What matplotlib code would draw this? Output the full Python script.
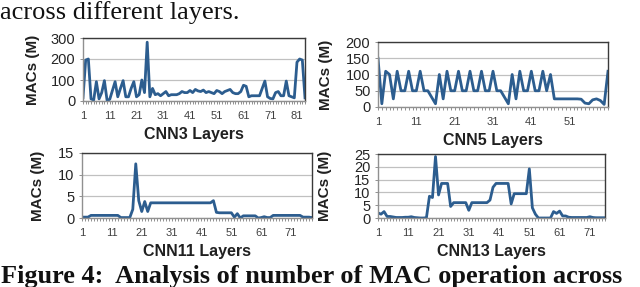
import matplotlib
matplotlib.use("Agg")
import matplotlib.pyplot as plt
from matplotlib.ticker import MultipleLocator, FixedLocator

# ---- data ----
cnn3 = [16, 195, 200, 10, 5, 92, 10, 40, 97, 3,
        8, 50, 92, 20, 60, 97, 20, 20, 60, 92,
        20, 30, 100, 40, 280, 20, 60, 30, 35, 25,
        35, 45, 25, 30, 30, 30, 35, 45, 40, 40,
        50, 40, 55, 48, 45, 52, 40, 45, 40, 35,
        50, 45, 35, 45, 50, 55, 40, 35, 35, 45,
        75, 70, 20, 25, 25, 25, 25, 60, 95, 20,
        12, 10, 40, 45, 25, 25, 95, 25, 20, 15,
        185, 200, 195, 15]

cnn5 = [150, 10, 110, 100, 25, 110, 50, 50, 110, 50,
        50, 110, 50, 50, 30, 10, 100, 25, 110, 50,
        50, 110, 50, 50, 110, 50, 50, 110, 50, 50,
        110, 50, 50, 30, 10, 100, 25, 110, 50, 50,
        110, 50, 50, 110, 50, 100, 25, 25, 25, 25,
        25, 25, 25, 24, 12, 10, 22, 25, 20, 8,
        110]

cnn11 = [0.2, 0.2, 0.2, 0.6, 0.6, 0.6, 0.6, 0.6, 0.6, 0.6,
         0.6, 0.6, 0.6, 0.1, 0.1, 0.1, 0.1, 2.0, 12.5, 4.0,
         1.5, 3.8, 1.5, 3.5, 3.5, 3.5, 3.5, 3.5, 3.5, 3.5,
         3.5, 3.5, 3.5, 3.5, 3.5, 3.5, 3.5, 3.5, 3.5, 3.5,
         3.5, 3.5, 3.5, 3.5, 4.0, 1.3, 1.2, 1.2, 1.2, 1.2,
         1.2, 0.2, 1.0, 0.0, 0.5, 0.5, 0.5, 0.5, 0.5, 0.0,
         0.1, 0.3, 0.1, 0.1, 0.6, 0.6, 0.6, 0.6, 0.6, 0.6,
         0.6, 0.6, 0.6, 0.6, 0.2, 0.2, 0.2, 0.1]

cnn13 = [2.0, 1.5, 2.5, 0.6, 0.6, 0.4, 0.2, 0.2, 0.2, 0.3,
         0.3, 0.5, 0.2, 0.1, 0.0, 0.0, 0.1, 8.5, 8.0, 24.0,
         9.0, 13.5, 13.5, 13.5, 4.5, 6.0, 6.0, 6.0, 6.0, 6.0,
         3.0, 6.0, 6.0, 6.0, 6.0, 6.0, 6.0, 7.0, 12.0, 13.5,
         13.5, 13.5, 13.5, 13.5, 5.5, 9.5, 9.5, 9.5, 9.5, 9.5,
         19.2, 4.0, 1.5, 0.0, 0.0, 0.0, 0.0, 0.0, 2.5, 1.8,
         2.7, 0.8, 0.8, 0.3, 0.2, 0.2, 0.2, 0.2, 0.2, 0.2,
         0.5, 0.2, 0.1, 0.1, 0.1, 0.1]

panels = [
    ("CNN3 Layers", cnn3, 300, 100),
    ("CNN5 Layers", cnn5, 200, 50),
    ("CNN11 Layers", cnn11, 15, 5),
    ("CNN13 Layers", cnn13, 25, 5),
]
ylabel_text = "MACs (M)"
top_caption = "across different layers."
bottom_caption = "Figure 4:  Analysis of number of MAC operation across"

# ---- layout (pixels, from top-left) ----
W, H = 640, 287
boxes = [(83, 38, 305, 101), (378, 42, 608, 107),
         (82, 153, 312, 218), (378, 154, 605, 218)]
ylab_right = [40, 333, 45, 332]

fig = plt.figure(figsize=(6.4, 2.87), dpi=100)
fig.patch.set_facecolor("white")
line_color = "#2c5d8f"

for (xl, data, ymax, ystep), (x0, y0, x1, y1), ylx in zip(panels, boxes, ylab_right):
    ax = fig.add_axes([x0 / W, 1 - y1 / H, (x1 - x0) / W, (y1 - y0) / H])
    n = len(data)
    xs = list(range(1, n + 1))
    ax.plot(xs, data, color=line_color, lw=2.0, solid_joinstyle="round")
    ax.set_xlim(1, n)
    ax.set_ylim(0, ymax)
    ax.yaxis.set_major_locator(MultipleLocator(ystep))
    ax.xaxis.set_major_locator(FixedLocator(list(range(1, n, 10))))
    ax.xaxis.set_minor_locator(FixedLocator(xs))
    ax.grid(axis="y", color="#c0c0c0", lw=0.9)
    ax.set_axisbelow(True)
    for s in ["top", "right"]:
        ax.spines[s].set_color("#3a3a3a")
        ax.spines[s].set_linewidth(1.0)
    for s in ["left", "bottom"]:
        ax.spines[s].set_color("#909090")
        ax.spines[s].set_linewidth(1.0)
    ax.tick_params(axis="x", which="both", length=2.5, width=0.7, color="#909090",
                   labelsize=8, labelcolor="#404040", pad=5)
    ax.tick_params(axis="y", length=2.5, width=0.7, color="#909090",
                   labelsize=10.5, labelcolor="#252525", pad=3)
    ax.set_xlabel(xl, fontsize=11.5, fontweight="bold", family="Liberation Sans",
                  color="#202020", labelpad=4)
    ax.set_ylabel(ylabel_text, fontsize=11, fontweight="bold",
                  family="Liberation Sans", color="#202020")
    ax.yaxis.set_label_coords((ylx - x0) / (x1 - x0), 0.5)
    for lab in ax.get_xticklabels() + ax.get_yticklabels():
        lab.set_family("Liberation Sans")

fig.text(0.0, 1 - 18.5 / H, top_caption, fontsize=19, family="Liberation Serif",
         va="baseline", ha="left", color="#111111")
fig.text(0.002, 1 - 283 / H, bottom_caption, fontsize=18.9, family="Liberation Serif",
         fontweight="bold", va="baseline", ha="left", color="#111111")

fig.savefig("out.png", dpi=100, facecolor="white")
